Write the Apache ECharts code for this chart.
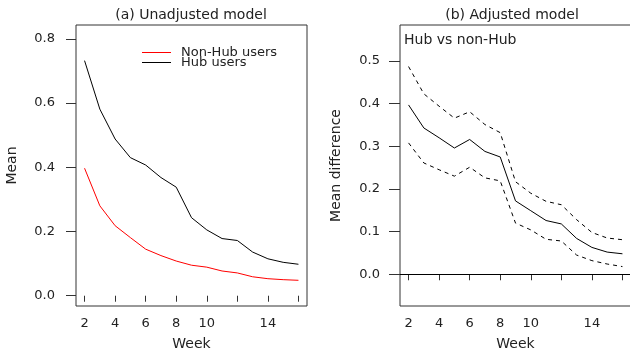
<!DOCTYPE html>
<html>
<head>
<meta charset="utf-8">
<script src="https://cdn.jsdelivr.net/npm/echarts@6/dist/echarts.min.js"></script>
<style>
  html, body { margin: 0; padding: 0; background: #fff; }
  #chart { width: 630px; height: 350px; }
</style>
</head>
<body>
<div id="chart"></div>
<script>
// weeks on the x axis
var weeks = [2, 3, 4, 5, 6, 7, 8, 9, 10, 11, 12, 13, 14, 15, 16];

// (a) unadjusted model - mean per group
var nonHubUsers = [0.397, 0.280, 0.218, 0.181, 0.145, 0.125, 0.108, 0.095, 0.089, 0.077, 0.071, 0.059, 0.053, 0.050, 0.048];
var hubUsers = [0.732, 0.581, 0.488, 0.430, 0.407, 0.368, 0.338, 0.243, 0.205, 0.178, 0.172, 0.136, 0.115, 0.104, 0.098];

// (b) adjusted model - mean difference with bounds
var diffMean = [0.397, 0.343, 0.320, 0.296, 0.316, 0.288, 0.275, 0.172, 0.149, 0.126, 0.118, 0.084, 0.063, 0.052, 0.048];
var diffUpper = [0.487, 0.423, 0.394, 0.366, 0.381, 0.351, 0.332, 0.217, 0.190, 0.171, 0.163, 0.128, 0.098, 0.085, 0.081];
var diffLower = [0.308, 0.261, 0.245, 0.230, 0.251, 0.226, 0.219, 0.120, 0.104, 0.082, 0.078, 0.045, 0.032, 0.024, 0.018];

// tick positions / labels
var weekTicks = [2, 4, 6, 8, 10, 12, 14, 16];
var weekLabels = [2, 4, 6, 8, 10, 14];
var meanTicks = [0, 0.2, 0.4, 0.6, 0.8];
var diffTicks = [0, 0.1, 0.2, 0.3, 0.4, 0.5];

var FONT = 'DejaVu Sans';
var INK = '#222';

function pairs(ys) {
    return weeks.map(function (w, i) { return [w, ys[i]]; });
}

function xAxisFor(gridIndex) {
    return {
        type: 'value',
        gridIndex: gridIndex,
        min: 1.44,
        max: 16.56,
        name: 'Week',
        nameLocation: 'middle',
        nameGap: 31,
        nameTextStyle: { fontFamily: FONT, fontSize: 14, color: INK },
        axisLine: { show: false },
        axisTick: { show: true, length: 6, customValues: weekTicks, lineStyle: { color: '#333' } },
        axisLabel: { customValues: weekLabels, margin: 11, fontFamily: FONT, fontSize: 13, color: INK },
        splitLine: { show: false }
    };
}

function yAxisFor(gridIndex, min, max, ticks, name, margin, tickLen) {
    return {
        type: 'value',
        gridIndex: gridIndex,
        min: min,
        max: max,
        name: name,
        nameLocation: 'middle',
        nameGap: 57,
        nameTextStyle: { fontFamily: FONT, fontSize: 14, color: INK },
        axisLine: { show: false },
        axisTick: { show: true, length: tickLen, customValues: ticks, lineStyle: { color: '#333' } },
        axisLabel: {
            customValues: ticks, margin: margin, fontFamily: FONT, fontSize: 13, color: INK,
            formatter: function (v) { return v.toFixed(1); }
        },
        splitLine: { show: false }
    };
}

var option = {
    animation: false,
    backgroundColor: '#fff',
    grid: [
        { left: 76, top: 25, width: 231, height: 281, show: true, borderColor: '#333', borderWidth: 1, outerBoundsMode: 'none' },
        { left: 400, top: 25, width: 231, height: 281, show: true, borderColor: '#333', borderWidth: 1, outerBoundsMode: 'none' }
    ],
    xAxis: [xAxisFor(0), xAxisFor(1)],
    yAxis: [
        yAxisFor(0, -0.032, 0.843, meanTicks, 'Mean', 21, 10),
        yAxisFor(1, -0.0744, 0.5844, diffTicks, 'Mean difference', 20, 11)
    ],
    legend: {
        orient: 'vertical',
        left: 137,
        top: 41,
        icon: 'rect',
        itemWidth: 29,
        itemHeight: 1,
        itemGap: -3,
        textStyle: { fontFamily: FONT, fontSize: 13, color: INK, padding: [0, 0, 0, 5] },
        data: ['Non-Hub users', 'Hub users']
    },
    graphic: [
        { type: 'text', style: { text: '(a) Unadjusted model', x: 191, y: 15, align: 'center', verticalAlign: 'middle', font: '14px "DejaVu Sans"', fill: INK } },
        { type: 'text', style: { text: '(b) Adjusted model', x: 512, y: 15, align: 'center', verticalAlign: 'middle', font: '14px "DejaVu Sans"', fill: INK } },
        { type: 'text', style: { text: 'Hub vs non-Hub', x: 404, y: 40, align: 'left', verticalAlign: 'middle', font: '14px "DejaVu Sans"', fill: INK } }
    ],
    series: [
        {
            name: 'Non-Hub users', type: 'line', xAxisIndex: 0, yAxisIndex: 0,
            data: pairs(nonHubUsers), symbol: 'none',
            lineStyle: { color: '#ff0000', width: 1 }, itemStyle: { color: '#ff0000' }
        },
        {
            name: 'Hub users', type: 'line', xAxisIndex: 0, yAxisIndex: 0,
            data: pairs(hubUsers), symbol: 'none',
            lineStyle: { color: '#000', width: 1 }, itemStyle: { color: '#000' }
        },
        {
            name: 'Mean difference', type: 'line', xAxisIndex: 1, yAxisIndex: 1,
            data: pairs(diffMean), symbol: 'none',
            lineStyle: { color: '#000', width: 1 },
            markLine: {
                silent: true, symbol: 'none', label: { show: false },
                lineStyle: { color: '#000', width: 1.2, type: 'solid' },
                data: [{ yAxis: 0 }]
            }
        },
        {
            name: 'Upper', type: 'line', xAxisIndex: 1, yAxisIndex: 1,
            data: pairs(diffUpper), symbol: 'none',
            lineStyle: { color: '#000', width: 1, type: [4, 4] }
        },
        {
            name: 'Lower', type: 'line', xAxisIndex: 1, yAxisIndex: 1,
            data: pairs(diffLower), symbol: 'none',
            lineStyle: { color: '#000', width: 1, type: [4, 4] }
        }
    ]
};

var chart = echarts.init(document.getElementById('chart'), null, { renderer: 'canvas' });
chart.setOption(option);
</script>
</body>
</html>
